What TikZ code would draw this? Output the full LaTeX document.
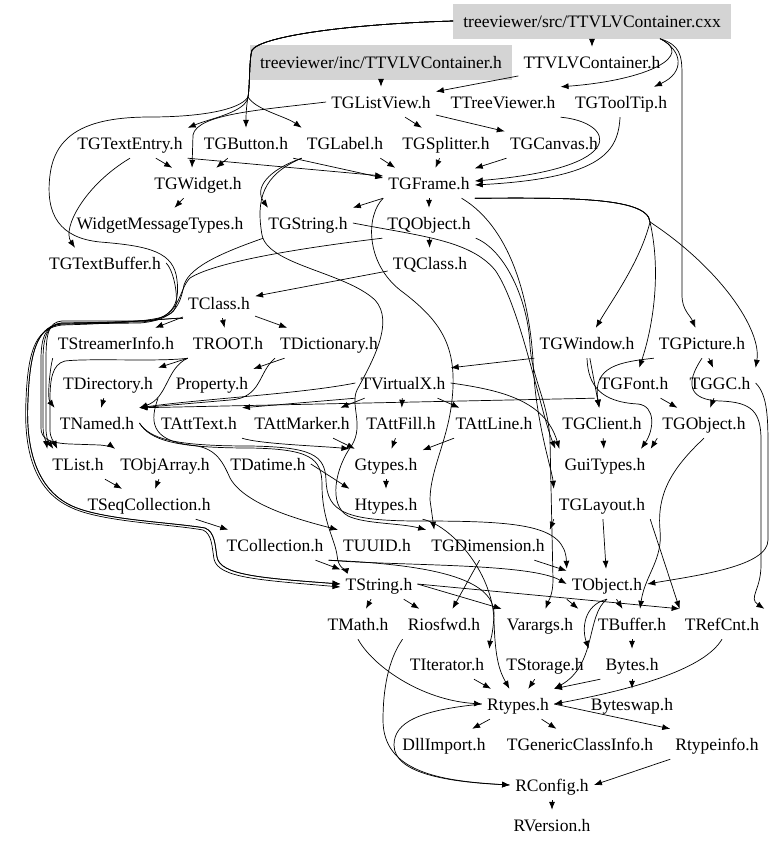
\documentclass[tikz,border=0pt]{standalone}
\usepackage{fontspec}
\setmainfont{Liberation Serif}
\usetikzlibrary{arrows.meta}
\tikzset{
    hdr/.style={inner xsep=5pt, inner ysep=0pt, minimum height=30pt,
        text height=14pt, text depth=2pt, font=\fontsize{17.5}{20}\selectfont},
    cur/.style={hdr, fill=black!17, minimum height=35pt, inner xsep=10pt},
    dep/.style={-{Latex[length=8pt,width=6pt]}, line width=0.7pt},
}
\begin{document}
\begin{tikzpicture}[x=1pt,y=-1pt]
    \useasboundingbox (0,0) rectangle (779,846);

    % files of the graph, row by row
    \node[cur] (cxx) at (592,21) {treeviewer/src/TTVLVContainer.cxx};
    \node[cur] (inch) at (381,62) {treeviewer/inc/TTVLVContainer.h};
    \node[hdr] (tvlv) at (592,62) {TTVLVContainer.h};
    \node[hdr] (lview) at (381,102) {TGListView.h};
    \node[hdr] (tview) at (503,102) {TTreeViewer.h};
    \node[hdr] (tip) at (621,102) {TGToolTip.h};
    \node[hdr] (tentry) at (130,143) {TGTextEntry.h};
    \node[hdr] (button) at (246,143) {TGButton.h};
    \node[hdr] (label) at (345,143) {TGLabel.h};
    \node[hdr] (splitter) at (446,143) {TGSplitter.h};
    \node[hdr] (canvas) at (554,143) {TGCanvas.h};
    \node[hdr] (widget) at (198,183) {TGWidget.h};
    \node[hdr] (frame) at (429,183) {TGFrame.h};
    \node[hdr] (wmt) at (160,223) {WidgetMessageTypes.h};
    \node[hdr] (gstr) at (308,223) {TGString.h};
    \node[hdr] (qobj) at (429,223) {TQObject.h};
    \node[hdr] (tbuf) at (105,263) {TGTextBuffer.h};
    \node[hdr] (qcls) at (430,263) {TQClass.h};
    \node[hdr] (cls) at (219,303) {TClass.h};
    \node[hdr] (sinfo) at (116,343) {TStreamerInfo.h};
    \node[hdr] (root) at (228,343) {TROOT.h};
    \node[hdr] (dict) at (329,343) {TDictionary.h};
    \node[hdr] (gwin) at (587,343) {TGWindow.h};
    \node[hdr] (gpic) at (702,343) {TGPicture.h};
    \node[hdr] (dir) at (108,383) {TDirectory.h};
    \node[hdr] (prop) at (212,383) {Property.h};
    \node[hdr] (vx) at (403,383) {TVirtualX.h};
    \node[hdr] (gfont) at (634,383) {TGFont.h};
    \node[hdr] (ggc) at (720,383) {TGGC.h};
    \node[hdr] (named) at (97,423) {TNamed.h};
    \node[hdr] (atext) at (199,423) {TAttText.h};
    \node[hdr] (amark) at (302,423) {TAttMarker.h};
    \node[hdr] (afill) at (401,423) {TAttFill.h};
    \node[hdr] (aline) at (494,423) {TAttLine.h};
    \node[hdr] (client) at (602,423) {TGClient.h};
    \node[hdr] (gobj) at (704,423) {TGObject.h};
    \node[hdr] (list) at (78,464) {TList.h};
    \node[hdr] (oarr) at (165,464) {TObjArray.h};
    \node[hdr] (datime) at (268,464) {TDatime.h};
    \node[hdr] (gtypes) at (386,464) {Gtypes.h};
    \node[hdr] (guit) at (605,464) {GuiTypes.h};
    \node[hdr] (seqc) at (149,504) {TSeqCollection.h};
    \node[hdr] (htypes) at (386,504) {Htypes.h};
    \node[hdr] (layout) at (602,504) {TGLayout.h};
    \node[hdr] (coll) at (275,545) {TCollection.h};
    \node[hdr] (uuid) at (377,545) {TUUID.h};
    \node[hdr] (dim) at (488,545) {TGDimension.h};
    \node[hdr] (str) at (379,584) {TString.h};
    \node[hdr] (obj) at (607,584) {TObject.h};
    \node[hdr] (math) at (358,624) {TMath.h};
    \node[hdr] (ios) at (444,624) {Riosfwd.h};
    \node[hdr] (vargs) at (540,624) {Varargs.h};
    \node[hdr] (buf) at (632,624) {TBuffer.h};
    \node[hdr] (refc) at (722,624) {TRefCnt.h};
    \node[hdr] (iter) at (447,664) {TIterator.h};
    \node[hdr] (stor) at (545,664) {TStorage.h};
    \node[hdr] (bytes) at (632,664) {Bytes.h};
    \node[hdr] (rtypes) at (518,704) {Rtypes.h};
    \node[hdr] (bswap) at (632,704) {Byteswap.h};
    \node[hdr] (dll) at (444,744) {DllImport.h};
    \node[hdr] (gci) at (580,744) {TGenericClassInfo.h};
    \node[hdr] (rtinfo) at (717,744) {Rtypeinfo.h};
    \node[hdr] (rconf) at (552,785) {RConfig.h};
    \node[hdr] (rver) at (552,825) {RVersion.h};

    % top files
    \draw[dep] (cxx) -- (tvlv);
    \draw[dep] (inch) -- (lview);
    \draw[dep] (tvlv) -- (lview);
    \draw[dep] ([xshift=68pt]cxx.south) .. controls (682,50) and (686,72) .. (tip);
    \draw[dep] ([xshift=68pt]cxx.south) .. controls (695,55) and (650,80) .. (tview.north east);
    \draw[dep] ([xshift=68pt]cxx.south) .. controls (680,45) and (682,55) .. (682,75)
        -- (682,295) .. controls (682,310) and (690,315) .. (gpic);
    % round the left of the inc box
    \draw[dep] (cxx.west) .. controls (350,24) and (262,36) .. (252,50)
        .. controls (249,60) and (250,85) .. (248,97) .. controls (246,112) and (212,118) .. (tentry.north east);
    \draw[dep] (cxx.west) .. controls (350,24) and (262,36) .. (252,50)
        .. controls (249,60) and (250,85) .. (248,97) .. controls (246,108) and (246,118) .. (button);
    \draw[dep] (cxx.west) .. controls (350,24) and (262,36) .. (252,50)
        .. controls (249,60) and (250,85) .. (248,97) .. controls (256,110) and (285,116) .. (label.north west);
    \draw[dep] (cxx.west) .. controls (350,24) and (262,36) .. (252,50)
        .. controls (249,60) and (250,85) .. (248,97) .. controls (240,110) and (200,117) .. (150,117)
        .. controls (85,117) and (55,135) .. (50,175) .. controls (45,215) and (60,238) .. (100,242)
        .. controls (150,246) and (174,252) .. (177,280) .. controls (180,305) and (172,320) .. (140,322)
        -- (62,323) .. controls (47,324) and (43,338) .. (43,360) -- (43,425)
        .. controls (43,437) and (46,441) .. (list.north west);

    % TGListView.h, TTreeViewer.h, TGToolTip.h
    \draw[dep] (lview.west) .. controls (260,110) and (197,114) .. (193,135) -- ([xshift=-6pt]widget.north);
    \draw[dep] (lview) -- (splitter);
    \draw[dep] (lview) -- (canvas);
    \draw[dep] (tview.south east) .. controls (615,122) and (632,168) .. ([yshift=2pt]frame.east);
    \draw[dep] (tip) .. controls (618,150) and (605,178) .. ([yshift=-2pt]frame.east);

    % widgets
    \draw[dep] (tentry) -- (widget);
    \draw[dep] (tentry.south east) -- ([yshift=7pt]frame.west);
    \draw[dep] (tentry.south) .. controls (85,185) and (62,228) .. ([xshift=-30pt]tbuf.north);
    \draw[dep] (button) -- (widget);
    \draw[dep] (button.south east) -- ([yshift=5pt]frame.west);
    \draw[dep] ([xshift=-8pt]label.south east) -- ([xshift=12pt]frame.north west);
    \draw[dep] (label.south west) .. controls (268,170) and (254,188) .. ([xshift=-40pt]gstr.north);
    \draw[dep] (label.south west) .. controls (262,175) and (256,200) .. (262,235)
        .. controls (268,265) and (345,272) .. (375,300) .. controls (395,322) and (372,362) .. (357,390)
        .. controls (350,405) and (364,425) .. (352,445) .. controls (335,468) and (328,505) .. (348,516)
        .. controls (365,524) and (400,523) .. (dim.north west);
    \draw[dep] (splitter) -- (frame);
    \draw[dep] (canvas) -- (frame);
    \draw[dep] (widget) -- (wmt);

    % TGFrame.h
    \draw[dep] (frame) -- (qobj);
    \draw[dep] (frame.south west) -- (gstr.north east);
    \draw[dep] (frame.south east) .. controls (560,198) and (648,196) .. (650,222)
        .. controls (640,262) and (612,300) .. (gwin);
    \draw[dep] (frame.south east) .. controls (560,198) and (648,196) .. (650,222)
        .. controls (662,275) and (652,330) .. (gfont);
    \draw[dep] (frame.south east) .. controls (560,198) and (648,196) .. (650,222)
        .. controls (720,268) and (762,330) .. (ggc.north east);
    \draw[dep] (frame.-25) .. controls (515,230) and (530,310) .. (533,360)
        .. controls (535,420) and (552,470) .. (layout.north west);
    \draw[dep] (frame.south west) .. controls (366,215) and (365,262) .. (400,290)
        .. controls (440,320) and (458,345) .. (452,400) .. controls (448,440) and (430,470) .. (430,500)
        -- ([xshift=8pt]dim.north west);

    % TQObject.h, TGString.h, TGTextBuffer.h
    \draw[dep] (qobj) -- (qcls);
    \draw[dep] (qcls) -- (cls);
    \draw[dep] (qobj.south west) .. controls (300,248) and (215,262) .. (190,278)
        .. controls (178,290) and (182,315) .. (150,321) -- (62,321)
        .. controls (48,322) and (46,335) .. (46,360) -- (46,428)
        .. controls (46,437) and (48,441) .. ([xshift=6pt]list.north west);
    \draw[dep] (qobj.south east) .. controls (505,250) and (528,300) .. (530,345)
        .. controls (532,380) and (548,400) .. (550,440) -- (553,580)
        .. controls (553,595) and (548,602) .. (vargs);
    \draw[dep] (gstr.east) .. controls (420,236) and (470,240) .. (495,270)
        .. controls (520,305) and (540,410) .. ([xshift=-4pt]guit.north west);
    \draw[dep] (gstr.south west) .. controls (230,250) and (190,265) .. (184,285)
        .. controls (180,305) and (175,320) .. (140,323) -- (62,324)
        .. controls (40,326) and (30,345) .. (28,400) .. controls (25,455) and (40,490) .. (70,505)
        .. controls (100,520) and (170,522) .. (205,528) .. controls (215,532) and (215,545) .. (217,557)
        .. controls (220,575) and (260,578) .. (str.west);
    \draw[dep] (tbuf.east) .. controls (172,268) and (178,290) .. (176,305)
        .. controls (174,318) and (160,322) .. (62,325)
        .. controls (38,328) and (28,345) .. (26,400) .. controls (23,457) and (38,492) .. (70,507)
        .. controls (100,522) and (170,524) .. (203,530) .. controls (212,534) and (212,547) .. (214,559)
        .. controls (218,578) and (260,580) .. ([yshift=-3pt]str.west);

    % TClass.h and below
    \draw[dep] (cls) -- (sinfo);
    \draw[dep] (cls) -- (root);
    \draw[dep] (cls) -- (dict);
    \draw[dep] (cls.south west) .. controls (165,318) and (140,323) .. (62,324)
        .. controls (45,325) and (41,338) .. (41,360) -- (41,428)
        .. controls (41,438) and (48,443) .. (70,444) -- (100,445)
        .. controls (110,446) and (114,448) .. (oarr.north west);
    \draw[dep] (cls.south west) .. controls (170,318) and (150,322) .. (62,323)
        .. controls (40,326) and (30,345) .. (28,400) .. controls (25,455) and (40,490) .. (70,505)
        .. controls (100,520) and (170,522) .. (205,528) .. controls (215,532) and (215,545) .. (217,557)
        .. controls (220,575) and (260,578) .. (str.west);
    \draw[dep] (sinfo.south west) .. controls (50,368) and (47,398) .. (named.north west);
    \draw[dep] (root.south west) -- (dir.north east);
    \draw[dep] (root.south west) .. controls (166,368) and (168,398) .. (named.north east);
    \draw[dep] (root.south west) .. controls (160,362) and (90,358) .. (65,361)
        .. controls (52,364) and (50,380) .. (50,400) -- (50,430)
        .. controls (50,438) and (54,442) .. ([xshift=10pt]list.north west);
    \draw[dep] (dict) -- (prop);
    \draw[dep] (dict.south west) .. controls (258,372) and (262,398) .. (230,400) -- (named.north east);
    \draw[dep] (dir) -- (named);
    \draw[dep] (dir.south east) .. controls (150,420) and (150,440) .. (190,445)
        .. controls (215,447) and (222,460) .. (230,478) .. controls (245,505) and (300,520) .. (uuid.north west);

    % TVirtualX.h and the attributes
    \draw[dep] (vx.west) .. controls (300,394) and (200,399) .. (named.north east);
    \draw[dep] (vx.south west) -- (atext.north east);
    \draw[dep] (vx) -- (amark);
    \draw[dep] (vx) -- (afill);
    \draw[dep] (vx) -- (aline);
    \draw[dep] (vx.east) .. controls (500,390) and (545,400) .. (guit.north west);
    \draw[dep] (atext.south east) .. controls (260,444) and (320,446) .. (gtypes.north west);
    \draw[dep] (amark) -- (gtypes);
    \draw[dep] (afill) -- (gtypes);
    \draw[dep] (aline) -- (gtypes);

    % window side
    \draw[dep] (gwin) -- (client);
    \draw[dep] (gwin.south west) -- (vx.north east);
    \draw[dep] (gwin.south) .. controls (588,385) and (600,402) .. (638,404)
        .. controls (656,406) and (654,430) .. ([xshift=36pt]guit.north);
    \draw[dep] (gpic) -- (ggc);
    \draw[dep] (gpic.south west) .. controls (620,362) and (592,366) .. (client);
    \draw[dep] (gpic.south) .. controls (684,385) and (690,400) .. (720,401)
        .. controls (752,402) and (761,412) .. (761,440) -- (761,565)
        .. controls (761,590) and (748,598) .. (refc.north east);
    \draw[dep] (gfont.south west) -- (named.north east);
    \draw[dep] (gfont) -- (gobj);
    \draw[dep] (ggc) -- (gobj);
    \draw[dep] (ggc.east) .. controls (768,395) and (768,420) .. (768,450) -- (768,540)
        .. controls (768,566) and (700,575) .. (obj.east);
    \draw[dep] (client) -- (guit);
    \draw[dep] (gobj.south west) -- (guit.north east);
    \draw[dep] (gobj.south) .. controls (670,470) and (657,495) .. (660,530)
        .. controls (663,560) and (645,575) .. ([xshift=8pt]buf.north);

    % TNamed.h out to the right
    \draw[dep] (named.east) .. controls (150,438) and (170,446) .. (250,446)
        .. controls (312,447) and (325,455) .. (326,480) .. controls (327,512) and (345,521) .. (420,521)
        .. controls (520,521) and (565,525) .. (obj.north west);
    \draw[dep] (named.east) .. controls (150,440) and (175,448) .. (250,448)
        .. controls (310,449) and (322,458) .. (322,485) .. controls (322,520) and (335,540) .. (337,555)
        .. controls (338,568) and (345,570) .. (str.north west);

    % collections
    \draw[dep] (list) -- (seqc);
    \draw[dep] (oarr) -- (seqc);
    \draw[dep] (seqc) -- (coll);
    \draw[dep] (datime.east) -- (htypes.north west);
    \draw[dep] (gtypes) -- (htypes);
    \draw[dep] (htypes.south east) .. controls (450,525) and (492,570) .. (494,620)
        .. controls (495,660) and (500,672) .. (rtypes);
    \draw[dep] (layout) -- (obj);
    \draw[dep] (layout.south west) -- (dim.north east);
    \draw[dep] (layout.south east) -- (refc.north west);
    \draw[dep] (dim) -- (obj);
    \draw[dep] (dim) -- (ios);
    \draw[dep] (coll.south east) .. controls (400,566) and (530,563) .. (obj.west);
    \draw[dep] (coll) -- (str);
    \draw[dep] (coll.south east) .. controls (445,565) and (495,582) .. (494,615)
        .. controls (493,635) and (490,642) .. (iter.north east);

    % TString.h, TObject.h
    \draw[dep] (str) -- (math);
    \draw[dep] (str) -- (ios);
    \draw[dep] (str.east) -- (vargs.north west);
    \draw[dep] (str.east) -- (refc.north west);
    \draw[dep] (obj.south west) -- (vargs.north east);
    \draw[dep] (obj) -- (buf);
    \draw[dep] (obj.south) .. controls (583,605) and (582,630) .. (stor.north east);
    \draw[dep] (obj.south) .. controls (586,615) and (597,665) .. (rtypes.north east);

    % down to RVersion.h
    \draw[dep] (math.south) .. controls (372,665) and (420,700) .. (rtypes.west);
    \draw[dep] (ios.south west) .. controls (388,660) and (383,690) .. (383,720)
        .. controls (383,772) and (440,781) .. (rconf.west);
    \draw[dep] (rtypes.west) .. controls (420,710) and (394,722) .. (394,745)
        .. controls (394,774) and (450,782) .. (rconf.west);
    \draw[dep] (iter) -- (rtypes);
    \draw[dep] (stor) -- (rtypes);
    \draw[dep] (buf) -- (bytes);
    \draw[dep] (bytes) -- (bswap);
    \draw[dep] (bytes.south west) -- (rtypes.north east);
    \draw[dep] (refc.south) .. controls (705,668) and (640,688) .. (rtypes.east);
    \draw[dep] (rtypes) -- (dll);
    \draw[dep] (rtypes) -- (gci);
    \draw[dep] (rtypes.east) -- (rtinfo.north west);
    \draw[dep] (rtinfo.south west) -- (rconf.east);
    \draw[dep] (rconf) -- (rver);

\end{tikzpicture}
\end{document}
